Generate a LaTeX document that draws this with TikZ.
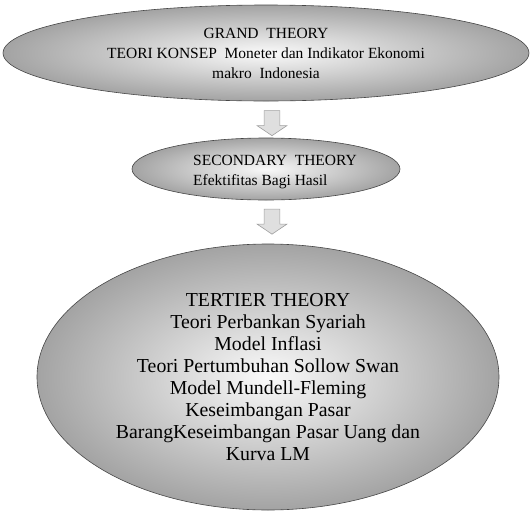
\documentclass[tikz,border=0pt]{standalone}
\usepackage{fontspec}
\setmainfont{Liberation Serif}
\usepackage{tikz}
\usetikzlibrary{shapes.geometric,shapes.arrows}

\tikzset{
  theory/.style={ellipse, draw=gray!55!black, line width=0.6pt,
    inner color=gray!4, outer color=gray!72, align=center, inner sep=0pt},
  downarrow/.style={single arrow, shape border rotate=270, draw=gray!75,
    fill=gray!25, line width=0.6pt, minimum height=25pt, minimum width=30pt,
    inner sep=7.5pt, single arrow head extend=7pt, single arrow tip angle=112}
}

\begin{document}
\begin{tikzpicture}[x=1pt, y=-1pt]
  \useasboundingbox (0,0) rectangle (531,512);
  % --- grand theory ---
  \node[theory, minimum width=526pt, minimum height=96pt,
        font=\fontsize{15.5}{20}\selectfont] (grand) at (266,53)
    {GRAND~ THEORY\\TEORI KONSEP~ Moneter dan Indikator Ekonomi\\makro~ Indonesia};
  \node[downarrow] (arrA) at (272,120.5) {};
  % --- secondary theory ---
  \node[theory, minimum width=268pt, minimum height=62pt] (second) at (266,169) {};
  \node[align=left, font=\fontsize{15.5}{20}\selectfont] (secondtxt) at (275,172)
    {SECONDARY~ THEORY\\Efektifitas Bagi Hasil};
  \node[downarrow] (arrB) at (272,219) {};
  % --- tertier theory ---
  \node[theory, minimum width=462pt, minimum height=266pt,
        font=\fontsize{19.8}{22.1}\selectfont] (tertier) at (268,377)
    {TERTIER THEORY\\Teori Perbankan Syariah\\Model Inflasi\\
     Teori Pertumbuhan Sollow Swan\\Model Mundell-Fleming\\Keseimbangan Pasar\\
     BarangKeseimbangan Pasar Uang dan\\Kurva LM};
\end{tikzpicture}
\end{document}
